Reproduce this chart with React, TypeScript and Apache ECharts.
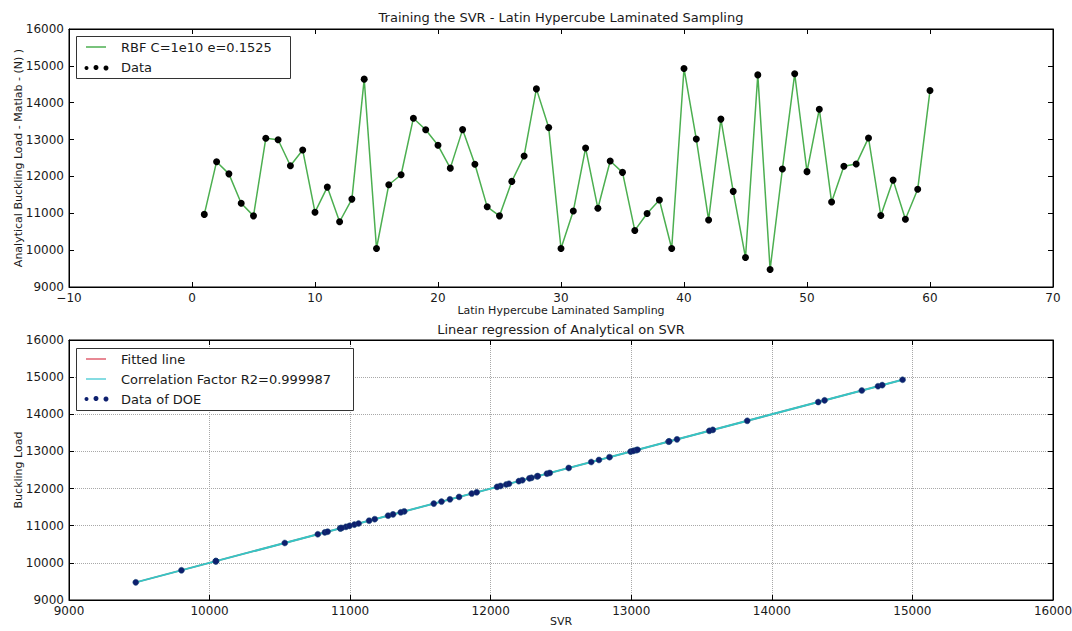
import React, { useEffect, useRef } from "react";
import * as echarts from "echarts";

// Sample index (Latin Hypercube laminated sampling)
const samples: number[] = [
  1, 2, 3, 4, 5, 6, 7, 8, 9, 10, 11, 12, 13, 14, 15, 16, 17, 18, 19, 20,
  21, 22, 23, 24, 25, 26, 27, 28, 29, 30, 31, 32, 33, 34, 35, 36, 37, 38, 39, 40,
  41, 42, 43, 44, 45, 46, 47, 48, 49, 50, 51, 52, 53, 54, 55, 56, 57, 58, 59, 60,
];
// Analytical buckling load (N)
const loads: number[] = [
  10970, 12400, 12070, 11270, 10930, 13035, 12995, 12290, 12715, 11030,
  11710, 10770, 11385, 14640, 10045, 11775, 12045, 13580, 13265, 12845,
  12225, 13270, 12330, 11175, 10930, 11865, 12555, 14375, 13325, 10045,
  11060, 12770, 11135, 12420, 12110, 10535, 10995, 11360, 10045, 14930,
  13015, 10820, 13555, 11595, 9800, 14755, 9475, 12200, 14785, 12130,
  13825, 11305, 12275, 12335, 13045, 10940, 11900, 10840, 11650, 14330,
];
// SVR predictions (R2 = 0.999987, visually identical to the loads)
const svrPred: number[] = [
  10970, 12400, 12070, 11270, 10930, 13035, 12995, 12290, 12715, 11030,
  11710, 10770, 11385, 14640, 10045, 11775, 12045, 13580, 13265, 12845,
  12225, 13270, 12330, 11175, 10930, 11865, 12555, 14375, 13325, 10045,
  11060, 12770, 11135, 12420, 12110, 10535, 10995, 11360, 10045, 14930,
  13015, 10820, 13555, 11595, 9800, 14755, 9475, 12200, 14785, 12130,
  13825, 11305, 12275, 12335, 13045, 10940, 11900, 10840, 11650, 14330,
];
// Fitted regression line end points [svr, load]
const fitLine: number[][] = [
  [9475, 9475],
  [14930, 14930],
];
const topTitle = "Training the SVR - Latin Hypercube Laminated Sampling";
const bottomTitle = "Linear regression of Analytical on SVR";
const legendTop = ["RBF C=1e10 e=0.1525", "Data"];
const legendBottom = ["Fitted line", "Correlation Factor R2=0.999987", "Data of DOE"];

const FONT = "DejaVu Sans";
const TXT = "#1a1a1a";

const fmt = (v: number) => (v < 0 ? "\u2212" + Math.abs(v) : String(v));

export default function App() {
  const ref = useRef<HTMLDivElement>(null);
  useEffect(() => {
    document.body.style.margin = "0";
    if (!ref.current) return;
    const chart = echarts.init(ref.current, null, { renderer: "svg" });

    const G1 = { left: 69, top: 29, width: 984, height: 258 };
    const G2 = { left: 69, top: 340, width: 984, height: 260 };

    const tickLabel = { color: TXT, fontFamily: FONT, fontSize: 12, formatter: fmt };
    const axisLine = { show: true, onZero: false, lineStyle: { color: "#000", width: 1 } };
    const tick = { show: true, inside: true, length: 5, lineStyle: { color: "#000" } };
    const dotted = { show: true, lineStyle: { color: "#a8a8a8", type: "dotted", width: 1 } };

    const mkX = (grid: number, min: number, max: number, interval: number, pos: string, labels: boolean, extra: any = {}) => ({
      type: "value",
      gridIndex: grid,
      position: pos,
      min,
      max,
      interval,
      axisLine,
      axisTick: tick,
      axisLabel: labels ? { ...tickLabel, margin: 5 } : { show: false },
      splitLine: { show: false },
      nameMoveOverlap: false,
      ...extra,
    });
    const mkY = (grid: number, pos: string, labels: boolean, extra: any = {}) => ({
      type: "value",
      gridIndex: grid,
      position: pos,
      min: 9000,
      max: 16000,
      interval: 1000,
      axisLine,
      axisTick: tick,
      axisLabel: labels ? { ...tickLabel, margin: 5 } : { show: false },
      splitLine: { show: false },
      nameMoveOverlap: false,
      ...extra,
    });

    const nameStyle = { color: TXT, fontFamily: FONT, fontSize: 11 };

    const option: any = {
      animation: false,
      backgroundColor: "#fff",
      grid: [
        { ...G1, show: true, borderColor: "#000", borderWidth: 1, backgroundColor: "transparent", containLabel: false, outerBoundsMode: "none" },
        { ...G2, show: true, borderColor: "#000", borderWidth: 1, backgroundColor: "transparent", containLabel: false, outerBoundsMode: "none" },
      ],
      xAxis: [
        mkX(0, -10, 70, 10, "bottom", true, {
          name: "Latin Hypercube Laminated Sampling",
          nameLocation: "middle",
          nameGap: 18,
          nameTextStyle: nameStyle,
        }),
        mkX(0, -10, 70, 10, "top", false),
        mkX(1, 9000, 16000, 1000, "bottom", true, {
          name: "SVR",
          nameLocation: "middle",
          nameGap: 16,
          nameTextStyle: nameStyle,
          splitLine: dotted,
        }),
        mkX(1, 9000, 16000, 1000, "top", false),
      ],
      yAxis: [
        mkY(0, "left", true, {
          name: "Analytical Buckling Load - Matlab - (N) )",
          nameLocation: "middle",
          nameGap: 45,
          nameTextStyle: nameStyle,
        }),
        mkY(0, "right", false),
        mkY(1, "left", true, {
          name: "Buckling Load",
          nameLocation: "middle",
          nameGap: 45,
          nameTextStyle: nameStyle,
          splitLine: dotted,
        }),
        mkY(1, "right", false),
      ],
      series: [
        {
          type: "line",
          xAxisIndex: 0,
          yAxisIndex: 0,
          data: samples.map((s, i) => [s, loads[i]]),
          lineStyle: { color: "#4caf50", width: 1.5 },
          symbol: "none",
          z: 2,
        },
        {
          type: "scatter",
          xAxisIndex: 0,
          yAxisIndex: 0,
          data: samples.map((s, i) => [s, loads[i]]),
          symbol: "circle",
          symbolSize: 7,
          itemStyle: { color: "#000", opacity: 1 },
          z: 3,
        },
        {
          type: "line",
          xAxisIndex: 2,
          yAxisIndex: 2,
          data: fitLine,
          lineStyle: { color: "#ff3030", width: 1.5 },
          symbol: "none",
          z: 2,
        },
        {
          type: "line",
          xAxisIndex: 2,
          yAxisIndex: 2,
          data: fitLine,
          lineStyle: { color: "#33c6c6", width: 2 },
          symbol: "none",
          z: 3,
        },
        {
          type: "scatter",
          xAxisIndex: 2,
          yAxisIndex: 2,
          data: svrPred.map((s, i) => [s, loads[i]]),
          symbol: "circle",
          symbolSize: 6,
          itemStyle: { color: "#0d1f6e", borderColor: "#1f4f7a", borderWidth: 0.5, opacity: 1 },
          z: 4,
        },
      ],
      graphic: [
        {
          type: "text",
          x: 561,
          y: 17,
          style: { text: topTitle, fill: TXT, font: `13px "${FONT}"`, align: "center", verticalAlign: "middle" },
        },
        {
          type: "text",
          x: 561,
          y: 329,
          style: { text: bottomTitle, fill: TXT, font: `13px "${FONT}"`, align: "center", verticalAlign: "middle" },
        },
        // top legend
        {
          type: "rect",
          shape: { x: 76.5, y: 36.5, width: 214, height: 42 },
          style: { fill: "#fff", stroke: "#333", lineWidth: 1 },
          z: 10,
        },
        {
          type: "line",
          shape: { x1: 86, y1: 47, x2: 106, y2: 47 },
          style: { stroke: "#4caf50", lineWidth: 1.5 },
          z: 11,
        },
        { type: "circle", shape: { cx: 86.5, cy: 68, r: 2 }, style: { fill: "#000" }, z: 11 },
        { type: "circle", shape: { cx: 96, cy: 67.5, r: 2.5 }, style: { fill: "#000" }, z: 11 },
        { type: "circle", shape: { cx: 106, cy: 68, r: 2.5 }, style: { fill: "#000" }, z: 11 },
        {
          type: "text",
          x: 121,
          y: 47,
          style: { text: legendTop[0], fill: TXT, font: `13px "${FONT}"`, verticalAlign: "middle" },
          z: 11,
        },
        {
          type: "text",
          x: 121,
          y: 67,
          style: { text: legendTop[1], fill: TXT, font: `13px "${FONT}"`, verticalAlign: "middle" },
          z: 11,
        },
        // bottom legend
        {
          type: "rect",
          shape: { x: 76.5, y: 348.5, width: 277, height: 62 },
          style: { fill: "#fff", stroke: "#333", lineWidth: 1 },
          z: 10,
        },
        {
          type: "line",
          shape: { x1: 86, y1: 359, x2: 106, y2: 359 },
          style: { stroke: "#e06070", lineWidth: 1.5 },
          z: 11,
        },
        {
          type: "line",
          shape: { x1: 86, y1: 379, x2: 106, y2: 379 },
          style: { stroke: "#5cd0d8", lineWidth: 1.5 },
          z: 11,
        },
        { type: "circle", shape: { cx: 86.5, cy: 399, r: 2 }, style: { fill: "#0d1f6e" }, z: 11 },
        { type: "circle", shape: { cx: 96, cy: 398.5, r: 2.5 }, style: { fill: "#0d1f6e" }, z: 11 },
        { type: "circle", shape: { cx: 106, cy: 399, r: 2.5 }, style: { fill: "#0d1f6e" }, z: 11 },
        {
          type: "text",
          x: 121,
          y: 359,
          style: { text: legendBottom[0], fill: TXT, font: `13px "${FONT}"`, verticalAlign: "middle" },
          z: 11,
        },
        {
          type: "text",
          x: 121,
          y: 379,
          style: { text: legendBottom[1], fill: TXT, font: `13px "${FONT}"`, verticalAlign: "middle" },
          z: 11,
        },
        {
          type: "text",
          x: 121,
          y: 399,
          style: { text: legendBottom[2], fill: TXT, font: `13px "${FONT}"`, verticalAlign: "middle" },
          z: 11,
        },
      ],
    };
    chart.setOption(option);
    return () => chart.dispose();
  }, []);
  return <div ref={ref} style={{ width: 1072, height: 631 }} />;
}
